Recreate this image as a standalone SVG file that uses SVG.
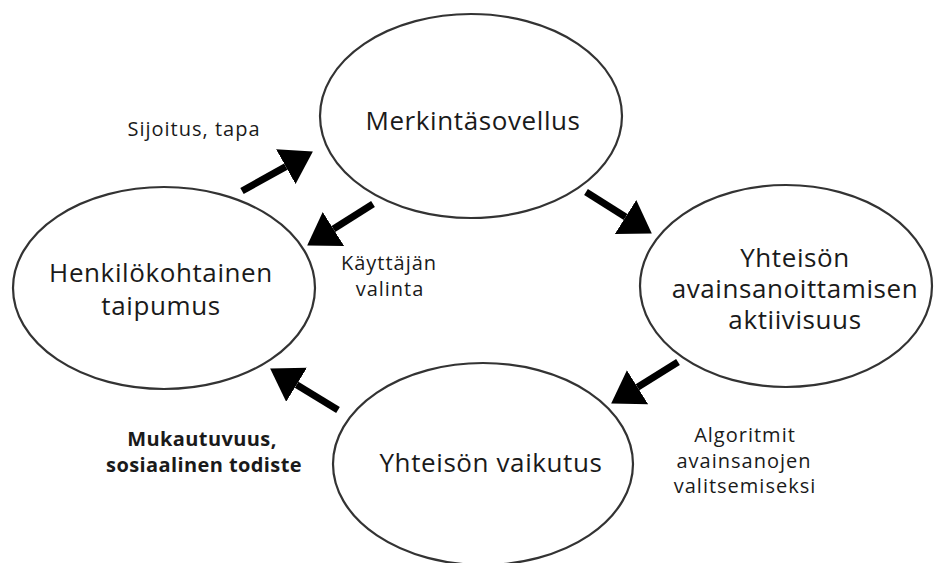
<svg xmlns="http://www.w3.org/2000/svg" width="936" height="563" viewBox="0 0 936 563">
<style>
.node ellipse{fill:#fff;stroke:#333;stroke-width:2.2}
.big{font-family:"Open Sans","DejaVu Sans",sans-serif;font-size:26px;fill:#1a1a1a;text-anchor:middle;letter-spacing:0.6px}
.lbl{font-family:"Open Sans","DejaVu Sans",sans-serif;font-size:20px;fill:#1a1a1a;text-anchor:middle;letter-spacing:1px}
.bold{font-family:"Open Sans","DejaVu Sans",sans-serif;font-size:20px;font-weight:bold;fill:#1a1a1a;text-anchor:middle;letter-spacing:0.4px}
.arrow{stroke:#000;stroke-width:7;marker-end:url(#head)}
</style>
<defs>
<marker id="head" markerUnits="userSpaceOnUse" markerWidth="32" markerHeight="40" refX="0" refY="20" orient="auto" viewBox="0 0 32 40">
<path d="M0,0 L31,20 L0,40 z" fill="#000"/>
</marker>
</defs>
<rect width="936" height="563" fill="#fff"/>
<g id="node-merkinta" class="node">
<ellipse cx="471" cy="116" rx="151" ry="102"/>
<text class="big" x="473" y="130">Merkintäsovellus</text>
</g>
<g id="node-henkilo" class="node">
<ellipse cx="164" cy="288" rx="151" ry="101"/>
<text class="big" x="161" y="282">Henkilökohtainen</text>
<text class="big" x="161" y="315">taipumus</text>
</g>
<g id="node-aktiivisuus" class="node">
<ellipse cx="786" cy="286" rx="146" ry="101"/>
<text class="big" x="795" y="267">Yhteisön</text>
<text class="big" x="795" y="298">avainsanoittamisen</text>
<text class="big" x="795" y="329">aktiivisuus</text>
</g>
<g id="node-vaikutus" class="node">
<ellipse cx="483" cy="464" rx="150" ry="101"/>
<text class="big" x="491" y="472">Yhteisön vaikutus</text>
</g>
<g id="connectors">
<line class="arrow" x1="242" y1="191" x2="285.8" y2="166.6"/>
<line class="arrow" x1="373" y1="204" x2="333.4" y2="229"/>
<line class="arrow" x1="586" y1="192" x2="625.6" y2="217"/>
<line class="arrow" x1="678" y1="362" x2="637.5" y2="387.2"/>
<line class="arrow" x1="338" y1="410" x2="296.6" y2="384.7"/>
</g>
<g id="labels">
<text class="lbl" x="194" y="136">Sijoitus, tapa</text>
<text class="lbl" x="389" y="270">Käyttäjän</text>
<text class="lbl" x="390" y="296">valinta</text>
<text class="bold" x="202" y="446">Mukautuvuus,</text>
<text class="bold" x="204" y="472">sosiaalinen todiste</text>
<text class="lbl" x="745" y="442">Algoritmit</text>
<text class="lbl" x="744" y="468">avainsanojen</text>
<text class="lbl" x="745" y="493">valitsemiseksi</text>
</g>
</svg>
